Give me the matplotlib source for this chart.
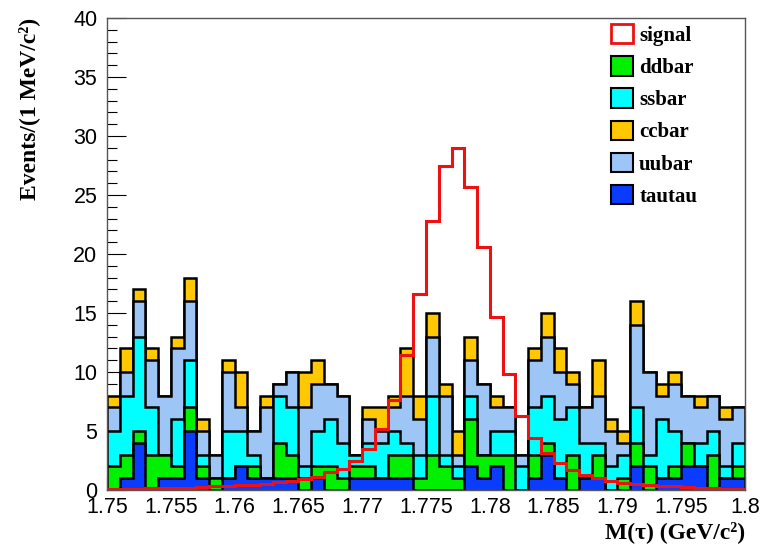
import numpy as np
import matplotlib
matplotlib.use("Agg")
import matplotlib.pyplot as plt
from matplotlib.patches import Patch
from matplotlib.ticker import MultipleLocator, FixedLocator

# 50 bins of 1 MeV between 1.75 and 1.80 GeV
x_min, x_max, n_bins = 1.75, 1.80, 50

# stack components, bottom to top
tautau = [0, 1, 4, 0, 1, 1, 5, 1, 0, 1,
          2, 1, 1, 1, 1, 0, 1, 0, 0, 1,
          1, 1, 1, 1, 0, 0, 0, 0, 2, 1,
          2, 0, 0, 1, 3, 1, 0, 1, 1, 0,
          0, 2, 0, 1, 1, 2, 2, 0, 1, 1]
ddbar = [2, 2, 1, 3, 2, 1, 2, 1, 1, 0,
         0, 1, 0, 3, 2, 1, 1, 2, 1, 1,
         1, 0, 2, 2, 1, 3, 2, 1, 4, 2,
         1, 3, 0, 2, 1, 0, 3, 0, 2, 0,
         1, 2, 2, 0, 1, 2, 0, 3, 0, 1]
ssbar = [3, 5, 8, 4, 0, 4, 4, 1, 0, 4,
         3, 1, 0, 4, 4, 1, 3, 4, 3, 1,
         2, 3, 2, 1, 2, 5, 1, 1, 2, 0,
         2, 2, 2, 4, 4, 5, 4, 3, 1, 2,
         2, 3, 1, 5, 3, 0, 2, 2, 1, 2]
uubar = [2, 2, 3, 4, 5, 6, 5, 2, 2, 5,
         2, 2, 6, 1, 3, 5, 4, 3, 4, 0,
         2, 1, 2, 4, 3, 5, 5, 1, 3, 6,
         2, 2, 1, 4, 5, 4, 2, 3, 4, 3,
         1, 7, 7, 2, 4, 4, 3, 3, 4, 3]
ccbar = [1, 2, 1, 1, 0, 1, 2, 1, 0, 1,
         3, 0, 1, 0, 0, 3, 2, 0, 0, 0,
         1, 2, 1, 4, 2, 2, 1, 2, 2, 0,
         1, 0, 0, 1, 2, 2, 1, 0, 3, 1,
         1, 2, 0, 1, 1, 0, 1, 0, 1, 0]
signal = [0.1, 0.1, 0.1, 0.15, 0.15, 0.2, 0.2, 0.25, 0.3, 0.35,
          0.4, 0.45, 0.55, 0.65, 0.75, 0.9, 1.1, 1.5, 1.8, 2.5,
          3.5, 5.2, 7.6, 11.4, 16.6, 22.8, 27.5, 29.0, 25.7, 20.6,
          14.7, 9.8, 6.3, 4.4, 3.1, 2.3, 1.7, 1.3, 1.0, 0.75,
          0.6, 0.5, 0.4, 0.35, 0.3, 0.25, 0.2, 0.15, 0.1, 0.1]

stack_names = ["tautau", "ddbar", "ssbar", "uubar", "ccbar"]
stack_colors = ["#0a3cff", "#00f000", "#00ffff", "#9dc6f7", "#ffc800"]
legend_order = ["ddbar", "ssbar", "ccbar", "uubar", "tautau"]
x_tick_labels = ["1.75", "1.755", "1.76", "1.765", "1.77", "1.775",
                 "1.78", "1.785", "1.79", "1.795", "1.8"]

serif_bold = dict(family="Liberation Serif", weight="bold")

fig = plt.figure(figsize=(7.67, 5.47), dpi=100)
ax = fig.add_axes([107 / 767, 1 - 490 / 547, 638 / 767, 472 / 547])

edges = np.linspace(x_min, x_max, n_bins + 1)
layers = np.array([tautau, ddbar, ssbar, uubar, ccbar], dtype=float)
cum = np.cumsum(layers, axis=0)

# ROOT style: draw cumulative histograms from the top one down
for k in reversed(range(len(stack_names))):
    ax.stairs(cum[k], edges, fill=True, facecolor=stack_colors[k],
              edgecolor="black", linewidth=1.8, zorder=2)

ax.stairs(signal, edges, color="#ee1111", linewidth=2.2, zorder=3)

ax.set_xlim(x_min, x_max)
ax.set_ylim(0, 40)

ax.xaxis.set_major_locator(FixedLocator(np.linspace(x_min, x_max, len(x_tick_labels))))
ax.set_xticklabels(x_tick_labels)
ax.xaxis.set_minor_locator(MultipleLocator(0.001))
ax.yaxis.set_major_locator(MultipleLocator(5))
ax.yaxis.set_minor_locator(MultipleLocator(1))

ax.tick_params(axis="both", which="both", direction="in", top=False, right=False,
               width=0.8, labelsize=15.5)
ax.tick_params(axis="y", which="major", length=13.5, pad=7)
ax.tick_params(axis="y", which="minor", length=7)
ax.tick_params(axis="x", which="major", length=10, pad=5)
ax.tick_params(axis="x", which="minor", length=5)
for lab in ax.get_xticklabels() + ax.get_yticklabels():
    lab.set_family("Liberation Sans")

for sp in ax.spines.values():
    sp.set_color("#555555")
    sp.set_linewidth(1.0)
    sp.set_zorder(4)

ax.set_ylabel("Events/(1 MeV/c²)", loc="top", fontsize=17, labelpad=24, **serif_bold)
ax.set_xlabel("M(τ) (GeV/c²)", loc="right", fontsize=17, labelpad=2, **serif_bold)

handles = [Patch(facecolor="white", edgecolor="#ee1111", linewidth=2)]
labels = ["signal"]
for name in legend_order:
    k = stack_names.index(name)
    handles.append(Patch(facecolor=stack_colors[k], edgecolor="black", linewidth=1.5))
    labels.append(name)

fig.legend(handles, labels, loc="upper left", bbox_to_anchor=(611 / 767, 1 - 24 / 547),
           frameon=False, borderpad=0, borderaxespad=0, handlelength=1.05,
           handleheight=1.05, handletextpad=0.3, labelspacing=0.5,
           prop=dict(family="Liberation Serif", weight="bold", size=15))

fig.savefig("out.png", dpi=100)
